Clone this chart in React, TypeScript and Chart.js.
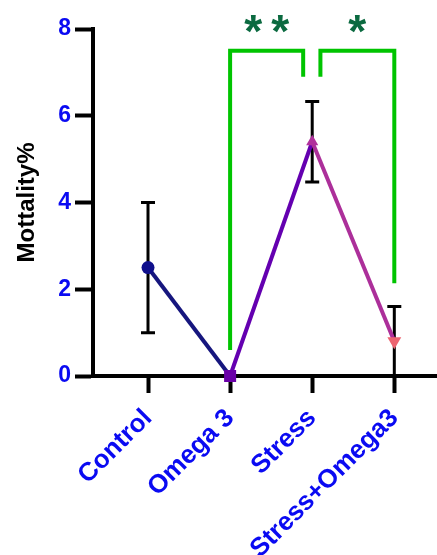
import { useEffect, useRef } from 'react';
import { Chart, registerables } from 'chart.js';
Chart.register(...registerables);

const categories = ['Control', 'Omega 3', 'Stress', 'Stress+Omega3'];
const means = [2.5, 0, 5.4, 0.8];
const errors = [1.5, 0, 0.93, 0.8];
const yTickValues = [0, 2, 4, 6, 8];
const pointColors = ['#0f0f8c', '#6a00a8', '#b0309c', '#ec6470'];
const segmentColors = ['#16167e', '#6400b0', '#ac2f9a'];
const pointStyles = ['circle', 'rect', 'triangle', 'triangle'];
const pointRotations = [0, 0, 0, 180];
const pointRadii = [6.5, 8.5, 7, 8];

// significance brackets (x in category positions 1..4, y in data units)
const bracketStarts = [2, 3.1];
const bracketEnds = [2.89, 4];
const bracketLeftBottoms = [0.6, 6.9];
const bracketRightBottoms = [6.9, 2.14];
const bracketTops = [7.5, 7.5];
const bracketStars = ['**', '*'];
const starLevel = 8.11;

const FONT = 'Arial, "Liberation Sans", Helvetica, sans-serif';
const BLUE = '#0a0af2';

const errorBarPlugin = {
  id: 'errorBars',
  beforeDatasetsDraw(chart: any) {
    const { ctx, chartArea, scales } = chart;
    const x = scales.x;
    const y = scales.y;
    ctx.save();
    ctx.beginPath();
    ctx.rect(chartArea.left, chartArea.top - 20, chartArea.right - chartArea.left, chartArea.bottom - chartArea.top + 20);
    ctx.clip();
    ctx.strokeStyle = '#000';
    ctx.lineWidth = 3;
    means.forEach((m, i) => {
      const e = errors[i];
      if (!e) return;
      const px = x.getPixelForValue(i + 1);
      const top = y.getPixelForValue(m + e);
      const bot = y.getPixelForValue(m - e);
      ctx.beginPath();
      ctx.moveTo(px, top);
      ctx.lineTo(px, bot);
      ctx.moveTo(px - 7, top);
      ctx.lineTo(px + 7, top);
      ctx.moveTo(px - 7, bot);
      ctx.lineTo(px + 7, bot);
      ctx.stroke();
    });
    ctx.restore();
  },
};

const bracketPlugin = {
  id: 'brackets',
  afterDatasetsDraw(chart: any) {
    const { ctx, scales } = chart;
    const x = scales.x;
    const y = scales.y;
    ctx.save();
    ctx.strokeStyle = '#00c400';
    ctx.lineWidth = 4;
    ctx.lineJoin = 'miter';
    ctx.lineCap = 'butt';
    bracketStarts.forEach((s, i) => {
      const xs = x.getPixelForValue(s);
      const xe = x.getPixelForValue(bracketEnds[i]);
      const yt = y.getPixelForValue(bracketTops[i]);
      ctx.beginPath();
      ctx.moveTo(xs, y.getPixelForValue(bracketLeftBottoms[i]));
      ctx.lineTo(xs, yt);
      ctx.lineTo(xe, yt);
      ctx.lineTo(xe, y.getPixelForValue(bracketRightBottoms[i]));
      ctx.stroke();
    });
    // stars
    ctx.fillStyle = '#0b6a40';
    ctx.font = `bold 100px ${FONT}`;
    const m = ctx.measureText('*');
    const w100 = m.actualBoundingBoxLeft + m.actualBoundingBoxRight;
    const size = (100 * 18) / w100;
    ctx.font = `bold ${size}px ${FONT}`;
    const mm = ctx.measureText('*');
    const cxOff = (mm.actualBoundingBoxRight - mm.actualBoundingBoxLeft) / 2;
    const cyOff = (mm.actualBoundingBoxAscent - mm.actualBoundingBoxDescent) / 2;
    ctx.textBaseline = 'alphabetic';
    ctx.textAlign = 'left';
    const spacing = 27;
    bracketStars.forEach((str, i) => {
      const cx = (x.getPixelForValue(bracketStarts[i]) + x.getPixelForValue(bracketEnds[i])) / 2;
      const cy = y.getPixelForValue(starLevel);
      const n = str.length;
      for (let k = 0; k < n; k++) {
        const sx = cx + (k - (n - 1) / 2) * spacing;
        ctx.fillText(str[k], sx - cxOff, cy + cyOff);
      }
    });
    ctx.restore();
  },
};

export default function App() {
  const ref = useRef<HTMLCanvasElement | null>(null);
  useEffect(() => {
    if (!ref.current) return;
    const chart = new Chart(ref.current, {
      type: 'line',
      data: {
        datasets: [
          {
            data: means.map((v, i) => ({ x: i + 1, y: v })),
            borderWidth: 4,
            borderColor: segmentColors[0],
            segment: {
              borderColor: (c: any) => segmentColors[c.p0DataIndex],
            },
            pointStyle: pointStyles as any,
            rotation: pointRotations,
            pointRadius: pointRadii,
            pointBackgroundColor: pointColors,
            pointBorderColor: pointColors,
            pointBorderWidth: 0,
            tension: 0,
            clip: false as any,
          },
        ],
      },
      options: {
        responsive: false,
        animation: false,
        events: [],
        layout: { autoPadding: false, padding: { top: 29, left: 0, right: 0, bottom: 0 } },
        plugins: { legend: { display: false }, tooltip: { enabled: false } },
        scales: {
          x: {
            type: 'linear',
            min: 0.33,
            max: 4.52,
            afterBuildTicks: (s: any) => {
              s.ticks = categories.map((_, i) => ({ value: i + 1 }));
            },
            afterFit: (s: any) => {
              s.height = 179;
              s.paddingLeft = 0;
              s.paddingRight = 0;
            },
            grid: {
              drawOnChartArea: false,
              drawTicks: true,
              tickLength: 17,
              tickWidth: 4,
              tickColor: '#000',
            },
            border: { display: true, color: '#000', width: 4 },
            ticks: {
              autoSkip: false,
              minRotation: 45,
              maxRotation: 45,
              padding: 10,
              color: BLUE,
              font: { family: FONT, size: 26, weight: 'bold' },
              callback: (v: any) => categories[Math.round(v) - 1] ?? '',
            },
          },
          y: {
            type: 'linear',
            min: 0,
            max: 8,
            afterBuildTicks: (s: any) => {
              s.ticks = yTickValues.map((v) => ({ value: v }));
            },
            afterFit: (s: any) => {
              s.width = 93;
            },
            grid: {
              drawOnChartArea: false,
              drawTicks: true,
              tickLength: 18,
              tickWidth: 4,
              tickColor: '#000',
            },
            border: { display: true, color: '#000', width: 4 },
            ticks: {
              padding: 4,
              color: BLUE,
              font: { family: FONT, size: 23, weight: 'bold' },
            },
            title: {
              display: true,
              text: 'Mottality%',
              color: '#000',
              font: { family: FONT, size: 24, weight: 'bold' },
              padding: { top: 13, bottom: 0 },
            },
          },
        },
      },
      plugins: [errorBarPlugin, bracketPlugin],
    });
    return () => chart.destroy();
  }, []);
  return (
    <div style={{ position: 'fixed', left: 0, top: 0, width: 437, height: 555, background: '#fff' }}>
      <canvas ref={ref} width={437} height={555} style={{ display: 'block' }} />
    </div>
  );
}
